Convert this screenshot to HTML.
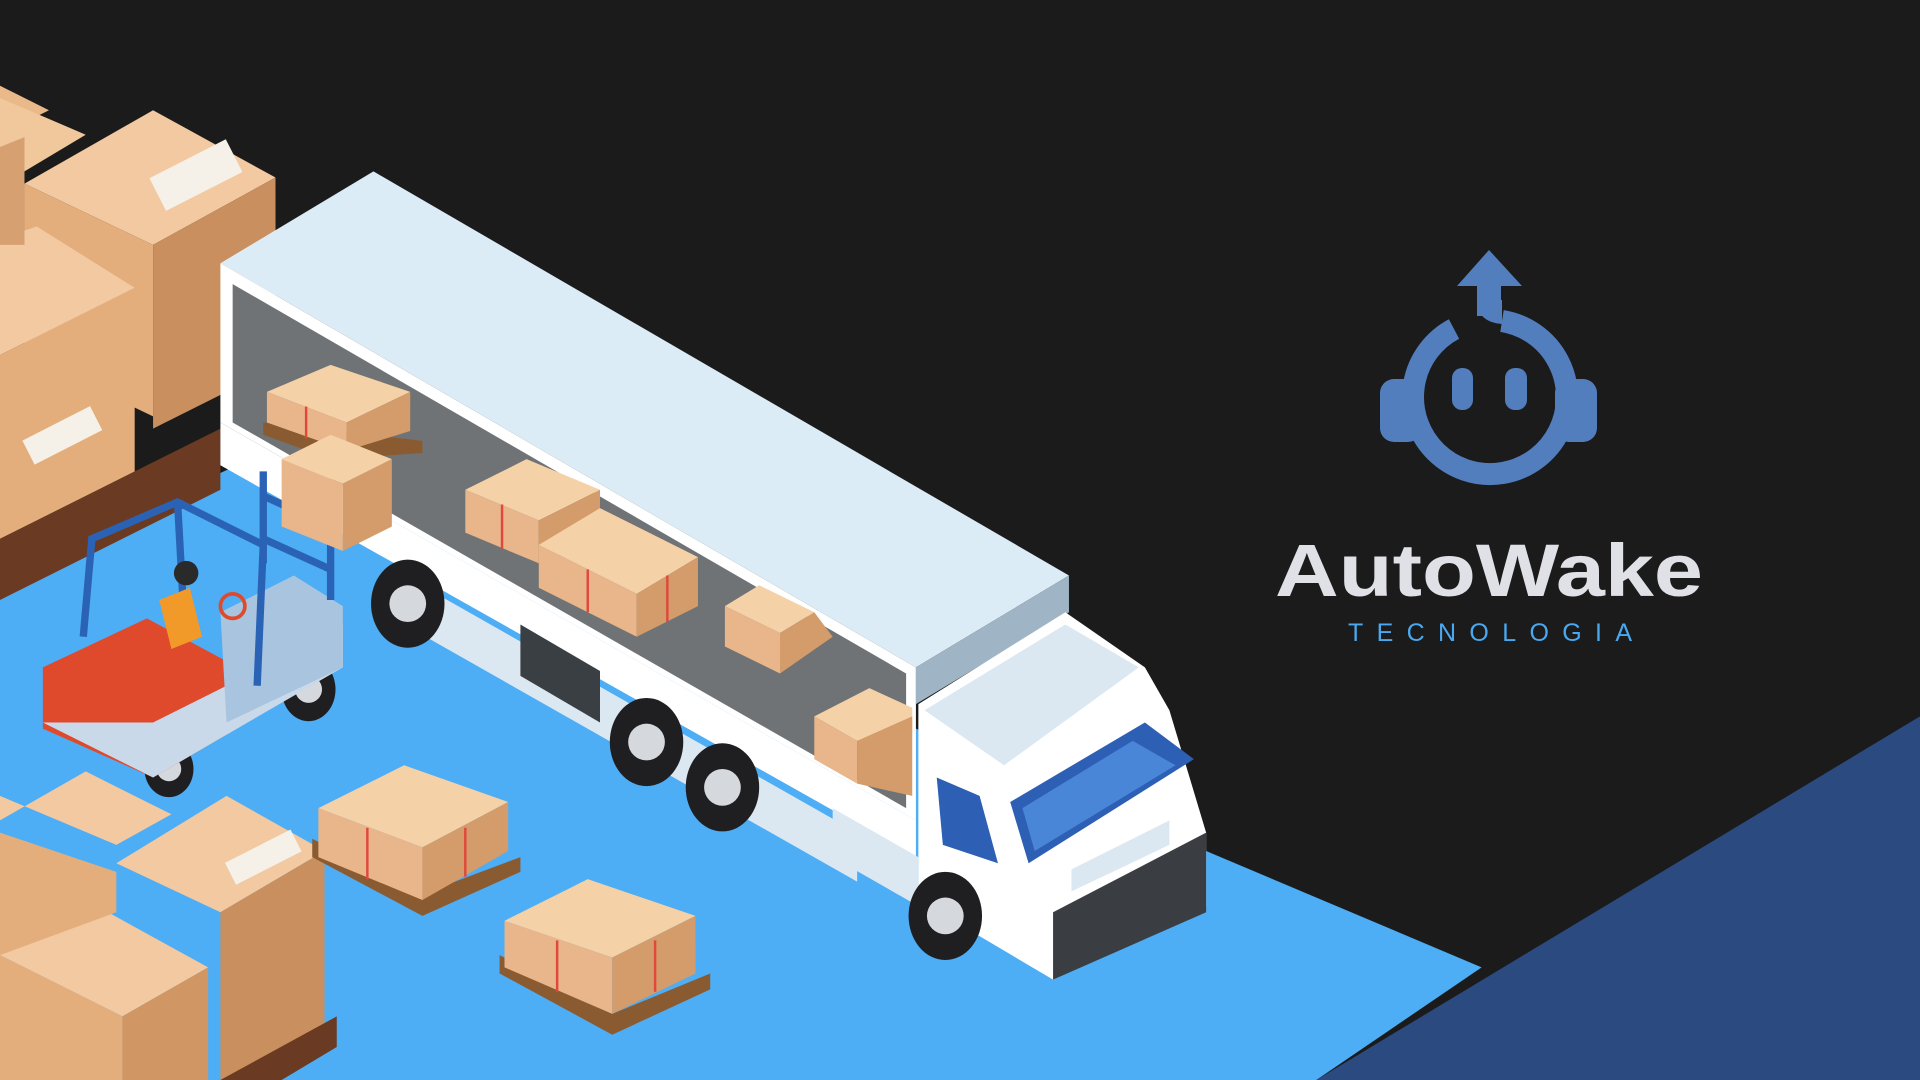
<!DOCTYPE html>
<html><head><meta charset="utf-8"><style>
html,body{margin:0;padding:0;background:#1b1b1b;}
svg{display:block}
</style></head><body>
<svg width="1920" height="1080" viewBox="0 0 1920 1080" xmlns="http://www.w3.org/2000/svg">
<rect width="1920" height="1080" fill="#1b1b1b"/>
<g transform="scale(1.22449)">
  <polygon points="0,470 215,370 1210,790 1075,882 0,882" fill="#4dadf5"/>
  <polygon points="1075,882 1568,585 1568,882" fill="#2b4a80"/>
  <polygon points="0,440 180,350 180,400 0,490" fill="#6b3a22"/>
  <polygon points="0,70 40,90 0,110" fill="#e9b98a"/>
  <polygon points="0,80 70,110 20,140 0,130" fill="#f1c89c"/>
  <polygon points="20,150 125,90 225,145 125,200" fill="#f2c9a0"/>
  <polygon points="20,150 125,200 125,340 20,290" fill="#e3ae7c"/>
  <polygon points="125,200 225,145 225,300 125,350" fill="#c98f5e"/>
  <polygon points="0,195 30,185 110,235 0,290" fill="#f2c9a0"/>
  <polygon points="0,290 110,235 110,385 0,440" fill="#e3ae7c"/>
  <polygon points="0,120 20,112 20,200 0,200" fill="#d6a070"/>
  <rect x="125" y="128" width="70" height="30" fill="#f5f0e8" transform="rotate(-27 160 143)"/>
  <rect x="20" y="345" width="62" height="22" fill="#f5f0e8" transform="rotate(-27 50 356)"/>
  <polygon points="0,670 70,630 140,665 95,690 0,650" fill="#f2c9a0"/>
  <polygon points="95,705 185,650 265,695 180,745" fill="#f2c9a0"/>
  <polygon points="180,745 265,695 265,840 180,882" fill="#c98f5e"/>
  <polygon points="0,780 70,735 170,790 100,830" fill="#f2c9a0"/>
  <polygon points="0,780 100,830 100,882 0,882" fill="#e3ae7c"/>
  <polygon points="100,830 170,790 170,882 100,882" fill="#d09663"/>
  <polygon points="0,680 95,712 95,745 0,780" fill="#e3ae7c"/>
  <polygon points="180,882 275,830 275,855 230,882" fill="#6b3a22"/>
  <rect x="185" y="690" width="60" height="20" fill="#f5f0e8" transform="rotate(-27 215 700)"/>
  <polygon points="180,215 305,140 873,470 748,545" fill="#dcecf6"/>
  <polygon points="180,215 748,545 748,670 180,345" fill="#ffffff"/>
  <polygon points="190,232 740,550 740,660 190,345" fill="#6f7375"/>
  <polygon points="748,545 873,470 873,500 748,575" fill="#9fb4c4"/>
  <polygon points="180,345 748,670 748,700 180,380" fill="#ffffff"/>
  <polygon points="330,470 700,680 700,720 330,510" fill="#dbe8f2"/>
  <polygon points="425,510 490,548 490,590 425,552" fill="#3a3f44"/>
  <polygon points="750,575 870,500 935,545 955,580 985,680 985,740 860,800 750,735" fill="#ffffff"/>
  <polygon points="755,580 870,510 930,545 820,625" fill="#dbe8f2"/>
  <polygon points="825,655 935,590 975,620 840,705" fill="#2d5fb5"/>
  <polygon points="835,660 925,605 960,625 845,695" fill="#4a86d8"/>
  <polygon points="765,635 800,650 815,705 770,690" fill="#2d5fb5"/>
  <polygon points="860,745 985,680 985,745 860,800" fill="#3a3d42"/>
  <polygon points="680,660 750,700 750,740 680,700" fill="#dbe8f2"/>
  <polygon points="875,710 955,670 955,690 875,728" fill="#dbe8f2"/>
  <g fill="#1f1f22">
    <ellipse cx="333" cy="493" rx="30" ry="36"/>
    <ellipse cx="528" cy="606" rx="30" ry="36"/>
    <ellipse cx="590" cy="643" rx="30" ry="36"/>
    <ellipse cx="772" cy="748" rx="30" ry="36"/>
    <ellipse cx="252" cy="563" rx="22" ry="26"/>
    <ellipse cx="138" cy="628" rx="20" ry="23"/>
  </g>
  <g fill="#d5d8dc">
    <circle cx="333" cy="493" r="15"/><circle cx="528" cy="606" r="15"/>
    <circle cx="590" cy="643" r="15"/><circle cx="772" cy="748" r="15"/>
    <circle cx="252" cy="563" r="11"/><circle cx="138" cy="628" r="10"/>
  </g>
  <polygon points="35,545 120,505 185,540 185,600 125,635 35,595" fill="#e04a2c"/>
  <polygon points="35,590 125,635 185,600 280,545 280,510 185,560 125,590" fill="#c9d9ea"/>
  <polygon points="180,500 240,470 280,495 280,545 185,590" fill="#a8c4de"/>
  <g stroke="#2a63b5" stroke-width="6" fill="none">
    <polyline points="68,520 75,440 145,410 215,445 210,560"/>
    <polyline points="145,410 150,500"/>
    <line x1="215" y1="385" x2="215" y2="460"/>
    <line x1="270" y1="410" x2="270" y2="490"/>
    <line x1="215" y1="405" x2="270" y2="430"/>
    <line x1="215" y1="440" x2="270" y2="465"/>
  </g>
  <polygon points="130,490 155,480 165,520 140,530" fill="#f19a2a"/>
  <circle cx="152" cy="468" r="10" fill="#2a2a2a"/>
  <circle cx="190" cy="495" r="10" fill="none" stroke="#e04a2c" stroke-width="3"/>
  <g>
    <polygon points="215,345 345,360 345,370 270,375 215,355" fill="#8a5a30"/>
    <polygon points="218,320 270,298 335,320 283,345" fill="#f5d1a8"/>
    <polygon points="218,320 283,345 283,368 218,345" fill="#e8b68a"/>
    <polygon points="283,345 335,320 335,352 283,368" fill="#d49c6b"/>
    <polygon points="230,375 270,355 320,375 280,395" fill="#f5d1a8"/>
    <polygon points="230,375 280,395 280,450 230,430" fill="#e8b68a"/>
    <polygon points="280,395 320,375 320,430 280,450" fill="#d49c6b"/>
    <polygon points="380,400 430,375 490,400 440,425" fill="#f5d1a8"/>
    <polygon points="380,400 440,425 440,460 380,435" fill="#e8b68a"/>
    <polygon points="440,425 490,400 490,440 440,460" fill="#d49c6b"/>
    <polygon points="440,445 490,415 570,455 520,485" fill="#f5d1a8"/>
    <polygon points="440,445 520,485 520,520 440,480" fill="#e8b68a"/>
    <polygon points="520,485 570,455 570,495 520,520" fill="#d49c6b"/>
    <polygon points="592,495 620,478 665,500 637,517" fill="#f5d1a8"/>
    <polygon points="592,495 637,517 637,550 592,528" fill="#e8b68a"/>
    <polygon points="637,517 665,500 680,520 637,550" fill="#d49c6b"/>
    <polygon points="665,585 710,562 745,578 745,600 700,605" fill="#f5d1a8"/>
    <polygon points="665,585 700,605 700,640 665,620" fill="#e8b68a"/>
    <polygon points="700,605 745,585 745,650 700,640" fill="#d49c6b"/>
    <polygon points="255,685 345,730 425,700 425,712 345,748 255,700" fill="#8a5a30"/>
    <polygon points="260,660 330,625 415,655 345,692" fill="#f5d1a8"/>
    <polygon points="260,660 345,692 345,735 260,700" fill="#e8b68a"/>
    <polygon points="345,692 415,655 415,695 345,735" fill="#d49c6b"/>
    <polygon points="408,780 500,828 580,795 580,808 500,845 408,795" fill="#8a5a30"/>
    <polygon points="412,752 480,718 568,748 500,782" fill="#f5d1a8"/>
    <polygon points="412,752 500,782 500,828 412,790" fill="#e8b68a"/>
    <polygon points="500,782 568,748 568,795 500,828" fill="#d49c6b"/>
    <g stroke="#e0483c" stroke-width="2">
      <line x1="300" y1="676" x2="300" y2="718"/><line x1="380" y1="676" x2="380" y2="716"/>
      <line x1="455" y1="768" x2="455" y2="810"/><line x1="535" y1="768" x2="535" y2="810"/>
      <line x1="250" y1="332" x2="250" y2="358"/><line x1="410" y1="412" x2="410" y2="448"/>
      <line x1="480" y1="465" x2="480" y2="500"/><line x1="545" y1="470" x2="545" y2="508"/>
    </g>
  </g>
</g>
<!-- logo -->
<g fill="#527ebd">
  <path d="M1454,329 A77,77 0 1 0 1502,321" fill="none" stroke="#527ebd" stroke-width="22"/>
  <rect x="1477" y="280" width="24" height="36"/>
  <path d="M1477,300 Q1477,322 1502,324 L1502,300 Z"/>
  <polygon points="1489,250 1457,286 1522,286"/>
  <rect x="1380" y="379" width="42" height="63" rx="14"/>
  <rect x="1555" y="379" width="42" height="63" rx="14"/>
  <rect x="1452" y="368" width="21" height="42" rx="10"/>
  <rect x="1505" y="368" width="22" height="42" rx="10"/>
</g>
<text x="1275" y="596" font-family="Liberation Sans, sans-serif" font-weight="bold" font-size="74" fill="#dfe1e6" textLength="428" lengthAdjust="spacingAndGlyphs">AutoWake</text>
<text x="1348" y="641" font-family="Liberation Sans, sans-serif" font-size="25" fill="#4aa8f0" textLength="284" lengthAdjust="spacing">TECNOLOGIA</text>
</svg>
</body></html>
